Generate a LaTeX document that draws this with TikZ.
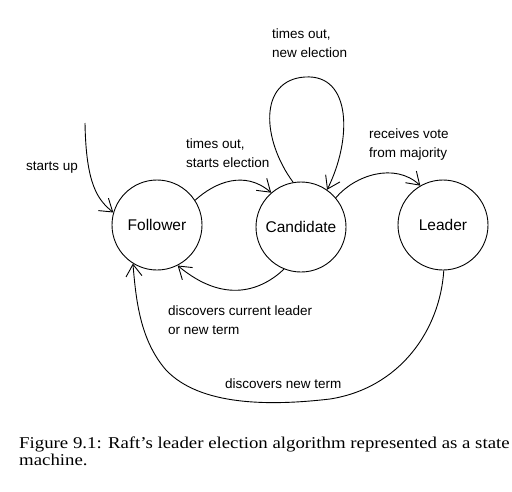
\documentclass[tikz,border=0pt]{standalone}
\usepackage{fontspec}
\setmainfont{Liberation Serif}
\newfontfamily\handfont{Liberation Sans}
\usetikzlibrary{arrows.meta}
\begin{document}
\begin{tikzpicture}[x=1pt,y=-1pt,
  state/.style={draw,circle,minimum size=90pt,inner sep=0pt,line width=0.9pt,font=\handfont\fontsize{15.5}{18}\selectfont},
  edge/.style={draw,line width=0.9pt,-{Straight Barb[length=12pt,width=16pt,line width=0.9pt]}},
  lab/.style={anchor=base west,inner sep=0pt,font=\handfont\fontsize{13.5}{16}\selectfont},
  captext/.style={anchor=base west,inner sep=0pt,font=\fontsize{16.5}{17}\selectfont}]
\useasboundingbox (0,0) rectangle (512,491);
\fill[white] (0,0) rectangle (512,491);
\node[state] (F) at (157,225) {Follower};
\node[state] (C) at (301,227) {Candidate};
\node[state] (L) at (443,225) {Leader};
\coordinate (S) at (85,123);
% start
\draw[edge] (S) .. controls (86,185) and (98,200) .. (F.164);
\node[lab] (l1) at (26,170) {starts up};
% times out, starts election
\draw[edge] (F.33) .. controls (215,182) and (245,170) .. (C.131);
\node[lab] (l2a) at (186,148) {times out,};
\node[lab] (l2b) at (186,167) {starts election};
% self loop
\draw[edge] (C.100) .. controls (262,140) and (258,80) .. (305,77) .. controls (352,74) and (352,140) .. (C.55);
\node[lab] (l3a) at (272,38) {times out,};
\node[lab] (l3b) at (272,57) {new election};
% receives vote
\draw[edge] (C.40) .. controls (355,175) and (395,162) .. (L.120);
\node[lab] (l4a) at (369,138) {receives vote};
\node[lab] (l4b) at (369,157) {from majority};
% discovers current leader
\draw[edge] (C.248) .. controls (262,290) and (225,305) .. (F.297);
\node[lab] (l5a) at (168,315) {discovers current leader};
\node[lab] (l5b) at (168,334) {or new term};
% discovers new term
\draw[edge] (L.271) .. controls (440,330) and (400,388) .. (330,399)
  .. controls (270,406) and (200,406) .. (166,370)
  .. controls (140,340) and (136,300) .. (F.238);
\node[lab] (l6) at (225,388) {discovers new term};
% caption
\node[captext] (c1) at (19,448) {\scalebox{1.14}[1]{Figure 9.1: Raft's leader election algorithm represented as a state}};
\node[captext] (c2) at (19,465) {\scalebox{1.14}[1]{machine.}};
\end{tikzpicture}
\end{document}
